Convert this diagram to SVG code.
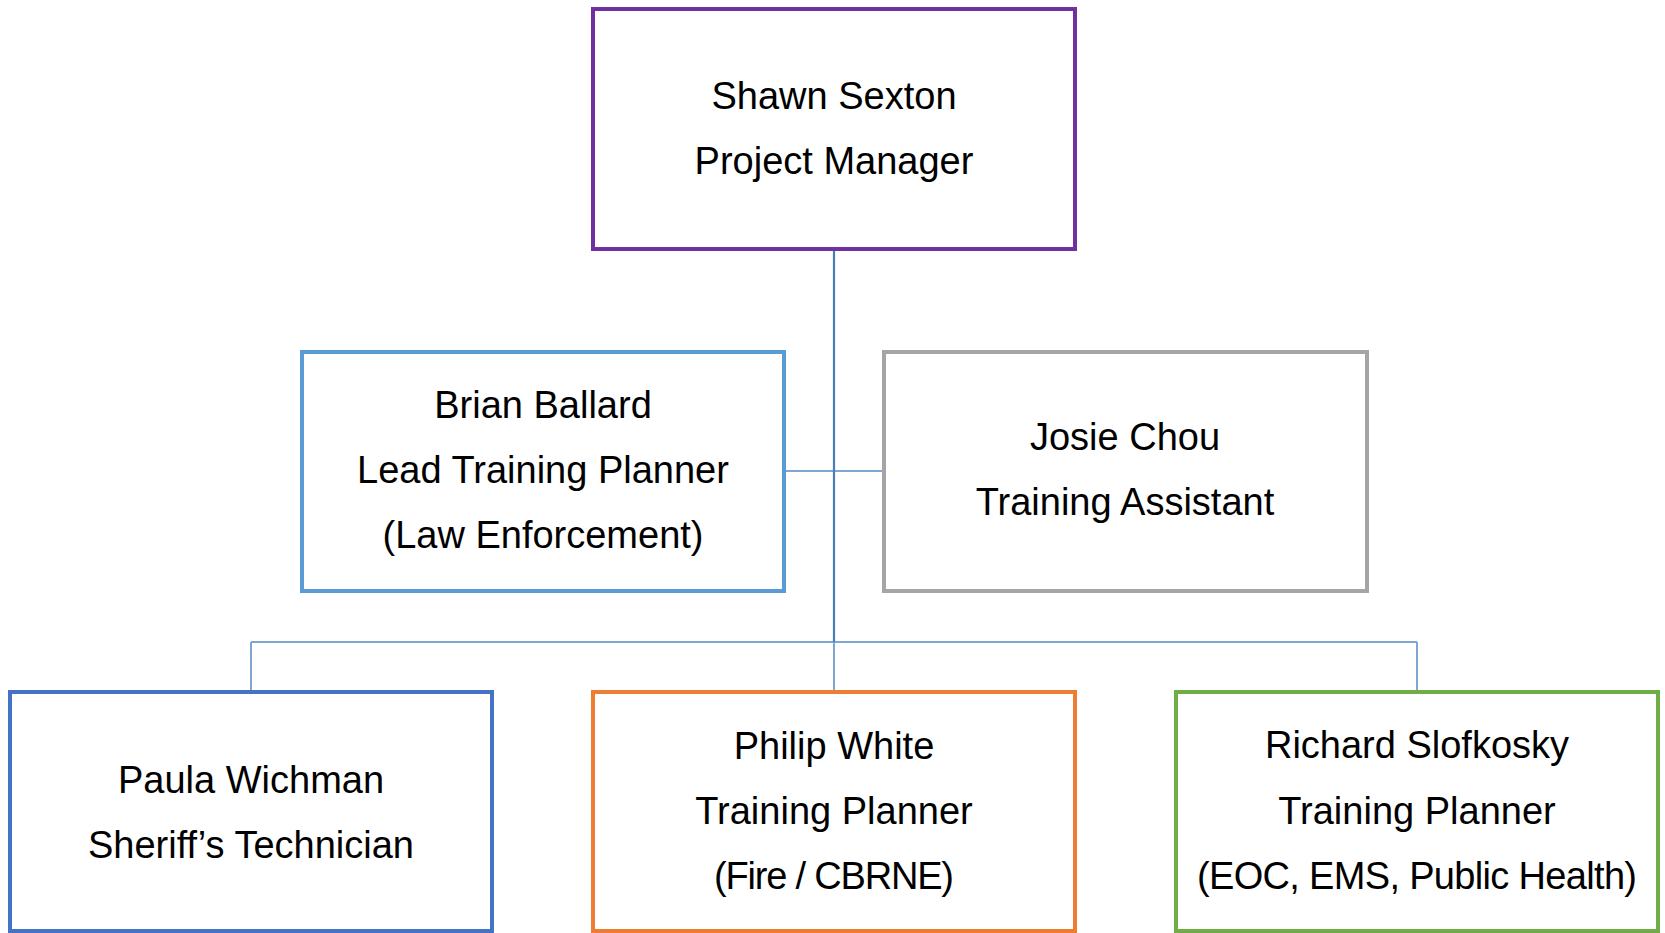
<svg xmlns="http://www.w3.org/2000/svg" width="1665" height="933" viewBox="0 0 1665 933">
<style>
.box{fill:#fff;stroke-width:4}
.t{font-family:"Liberation Sans",Arial,sans-serif;font-size:38px;fill:#000;text-anchor:middle}
.trunk{stroke:#4A7EBB;stroke-width:2.2;fill:none}
.branch{stroke:#7FA6CF;stroke-width:2;fill:none}
</style>
<rect width="1665" height="933" fill="#fff"/>
<g id="connectors">
<line class="branch" x1="784" y1="471" x2="884" y2="471"/>
<line class="branch" x1="251" y1="642" x2="1417" y2="642"/>
<line class="branch" x1="251" y1="642" x2="251" y2="692"/>
<line class="branch" x1="1417" y1="642" x2="1417" y2="692"/>
<line class="branch" x1="834" y1="642" x2="834" y2="692"/>
<line class="trunk" x1="834" y1="249" x2="834" y2="642"/>
</g>
<g id="shawn">
<rect class="box" x="593" y="9" width="482" height="240" stroke="#7030A0"/>
<text class="t" x="834" y="109">Shawn Sexton</text>
<text class="t" x="834" y="174">Project Manager</text>
</g>
<g id="brian">
<rect class="box" x="302" y="352" width="482" height="239" stroke="#5B9BD5"/>
<text class="t" x="543" y="418">Brian Ballard</text>
<text class="t" x="543" y="483">Lead Training Planner</text>
<text class="t" x="543" y="548">(Law Enforcement)</text>
</g>
<g id="josie">
<rect class="box" x="884" y="352" width="483" height="239" stroke="#A5A5A5"/>
<text class="t" x="1125" y="450">Josie Chou</text>
<text class="t" x="1125" y="515">Training Assistant</text>
</g>
<g id="paula">
<rect class="box" x="10" y="692" width="482" height="239" stroke="#4472C4"/>
<text class="t" x="251" y="793">Paula Wichman</text>
<text class="t" x="251" y="858">Sheriff’s Technician</text>
</g>
<g id="philip">
<rect class="box" x="593" y="692" width="482" height="239" stroke="#ED7D31"/>
<text class="t" x="834" y="759">Philip White</text>
<text class="t" x="834" y="824">Training Planner</text>
<text class="t" x="834" y="889" textLength="240">(Fire / CBRNE)</text>
</g>
<g id="richard">
<rect class="box" x="1176" y="692" width="482" height="239" stroke="#70AD47"/>
<text class="t" x="1417" y="758">Richard Slofkosky</text>
<text class="t" x="1417" y="824">Training Planner</text>
<text class="t" x="1417" y="889" textLength="440">(EOC, EMS, Public Health)</text>
</g>
</svg>
